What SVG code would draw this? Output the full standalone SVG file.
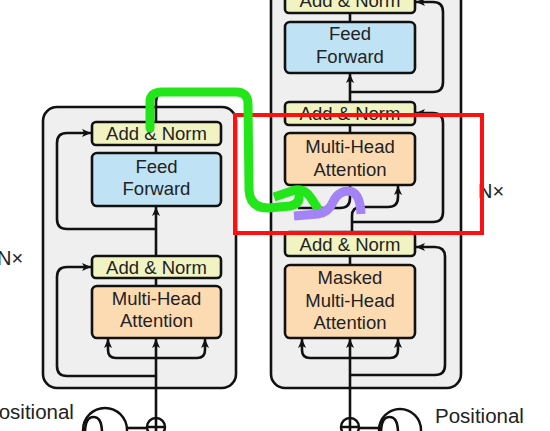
<svg xmlns="http://www.w3.org/2000/svg" width="550" height="431" viewBox="0 0 550 431">
<defs>
<marker id="arr" viewBox="0 0 10 10" refX="10" refY="5" markerWidth="9" markerHeight="9" markerUnits="userSpaceOnUse" orient="auto">
<path d="M0,0.5 L10,5 L0,9.5 L2.5,5 z" fill="#111"/>
</marker>
<style>
.panel{fill:#efefef;stroke:#111;stroke-width:2.6}
.box{stroke:#111;stroke-width:2.6}
.an{fill:#f1f4c2}
.ff{fill:#bfe3f4}
.mh{fill:#fcdbb3}
.t{font-family:"Liberation Sans",Arial,sans-serif;font-size:18.5px;fill:#222;text-anchor:middle}
.lbl{font-family:"Liberation Sans",Arial,sans-serif;fill:#222}
.c{fill:none;stroke:#111;stroke-width:2.6;stroke-linejoin:round}
.ca{fill:none;stroke:#111;stroke-width:2.6;marker-end:url(#arr)}
</style>
</defs>
<rect width="550" height="431" fill="#fff"/>
<g id="encoder-panel"><rect class="panel" x="43" y="107" width="193" height="281" rx="14"/></g>
<g id="decoder-panel"><rect class="panel" x="271" y="-20" width="190" height="408" rx="14"/></g>

<g id="connectors">
<!-- encoder -->
<path class="ca" d="M156,418 V339"/>
<path class="ca" d="M156,358 H116 Q108,358 108,350 V339"/>
<path class="ca" d="M156,358 H197 Q205,358 205,350 V339"/>
<path class="ca" d="M156,376 H67 Q57,376 57,366 V277 Q57,267 67,267 H91"/>
<path class="c" d="M156,286 V278"/>
<path class="ca" d="M156,256 V207"/>
<path class="ca" d="M156,229 H67 Q57,229 57,219 V143 Q57,133 67,133 H91"/>
<path class="c" d="M156,153 V145"/>
<path class="ca" d="M156,122 V102 Q156,92 166,92 H240 Q250,92 250,102 V198 Q250,208 260,208 H290 Q300,208 300,198 V186"/>
<path class="ca" d="M298,208 H340 Q350,208 350,198 V186"/>
<!-- decoder -->
<path class="ca" d="M352,232 V216 Q352,207 361,207 H388 Q398,207 398,197 V186"/>
<path class="ca" d="M352,222 H433 Q443,222 443,212 V123 Q443,113 433,113 H416"/>
<path class="c" d="M350,133 V125"/>
<path class="ca" d="M350,102 V74"/>
<path class="ca" d="M350,92 H433 Q443,92 443,82 V12 Q443,2 433,2 H416"/>
<path class="c" d="M350,22 V13"/>
<path class="ca" d="M350,418 V339"/>
<path class="ca" d="M350,358 H310 Q302,358 302,350 V339"/>
<path class="ca" d="M350,358 H390 Q398,358 398,350 V339"/>
<path class="ca" d="M350,375 H435 Q445,375 445,365 V257 Q445,247 435,247 H416"/>
<path class="c" d="M350,265 V256"/>
<!-- positional encodings -->
<path class="c" d="M127,428 H147"/>
<path class="c" d="M359,428 H379"/>
</g>

<g id="enc-addnorm2"><rect class="box an" x="92" y="122" width="129" height="23" rx="4"/><text class="t" x="156.5" y="140">Add &amp; Norm</text></g>
<g id="enc-ff"><rect class="box ff" x="92" y="153" width="129" height="53" rx="5"/><text class="t" x="156.5" y="173">Feed</text><text class="t" x="156.5" y="195">Forward</text></g>
<g id="enc-addnorm1"><rect class="box an" x="92" y="256" width="129" height="22" rx="4"/><text class="t" x="156.5" y="274">Add &amp; Norm</text></g>
<g id="enc-mha"><rect class="box mh" x="92" y="286" width="129" height="52" rx="5"/><text class="t" x="156.5" y="305">Multi-Head</text><text class="t" x="156.5" y="327">Attention</text></g>

<g id="dec-addnorm3"><rect class="box an" x="285" y="-12" width="130" height="25" rx="4"/><text class="t" x="350" y="7">Add &amp; Norm</text></g>
<g id="dec-ff"><rect class="box ff" x="285" y="22" width="130" height="51" rx="5"/><text class="t" x="350" y="40">Feed</text><text class="t" x="350" y="63">Forward</text></g>
<g id="dec-addnorm2"><rect class="box an" x="285" y="102" width="130" height="23" rx="4"/><text class="t" x="350" y="120">Add &amp; Norm</text></g>
<g id="dec-mha"><rect class="box mh" x="285" y="133" width="130" height="52" rx="5"/><text class="t" x="350" y="153">Multi-Head</text><text class="t" x="350" y="176">Attention</text></g>
<g id="dec-addnorm1"><rect class="box an" x="285" y="232" width="130" height="24" rx="4"/><text class="t" x="350" y="251">Add &amp; Norm</text></g>
<g id="dec-masked"><rect class="box mh" x="285" y="265" width="130" height="73" rx="5"/><text class="t" x="350" y="284">Masked</text><text class="t" x="350" y="307">Multi-Head</text><text class="t" x="350" y="329">Attention</text></g>

<g id="enc-posenc">
<circle cx="105" cy="430" r="22" fill="#fff" stroke="#111" stroke-width="2.4"/>
<path class="c" d="M85,433 Q85,417 93.5,417 Q102,417 102,433"/>
<circle cx="156" cy="427" r="9" fill="#fff" stroke="#111" stroke-width="2.4"/>
<path class="c" d="M147,427 H165 M156,418 V436"/>
</g>
<g id="dec-posenc">
<circle cx="400" cy="430" r="21" fill="#fff" stroke="#111" stroke-width="2.4"/>
<path class="c" d="M381,433 Q381,417 389.5,417 Q398,417 398,433"/>
<circle cx="350" cy="427" r="9" fill="#fff" stroke="#111" stroke-width="2.4"/>
<path class="c" d="M341,427 H359 M350,418 V436"/>
</g>

<g id="labels">
<text class="lbl" x="-3" y="265" font-size="20">N×</text>
<text class="lbl" x="478" y="198" font-size="20">N×</text>
<text class="lbl" x="-15" y="419" font-size="20.5">Positional</text>
<text class="lbl" x="435" y="423" font-size="20.5">Positional</text>
</g>

<g id="annotations">
<rect x="235" y="115" width="247" height="118" fill="none" stroke="#ff1010" stroke-width="4"/>
<path d="M150,128 L150,102 Q150,92 162,92 L236,92 Q248,92 248,104 L249,190 Q250,208 268,208 L290,206 Q300,204 299,196" fill="none" stroke="#22e619" stroke-width="9" stroke-linejoin="round" stroke-linecap="round"/>
<path d="M274,197 L295,190 Q305,188 311,198 L320,212" fill="none" stroke="#22e619" stroke-width="9" stroke-linejoin="round" stroke-linecap="butt"/>
<path d="M294,216 L318,214 Q329,212 333,202 Q338,191 349,191 Q360,192 361,214" fill="none" stroke="#a383f5" stroke-width="9" stroke-linejoin="round" stroke-linecap="butt"/>
</g>
</svg>
